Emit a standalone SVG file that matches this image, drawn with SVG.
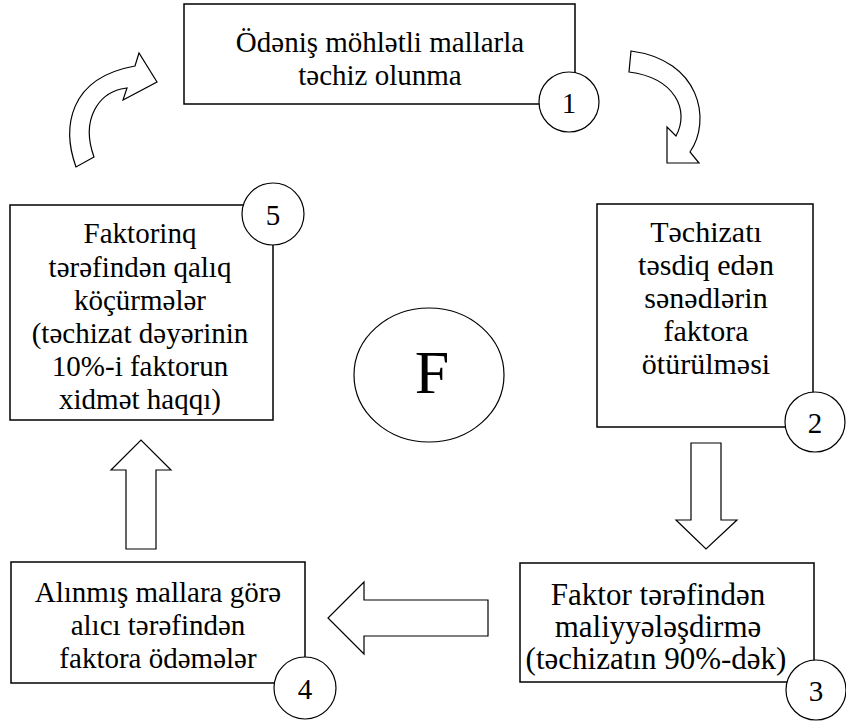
<svg xmlns="http://www.w3.org/2000/svg" width="846" height="722" viewBox="0 0 846 722">
<style>
.box{fill:#fff;stroke:#000;stroke-width:1.5}
.num{fill:#fff;stroke:#000;stroke-width:1.2}
.arr{fill:#fff;stroke:#000;stroke-width:1.2;stroke-linejoin:miter}
text{font-family:"Liberation Serif","Times New Roman","DejaVu Serif",serif;font-size:29px;fill:#000;text-anchor:middle}
</style>
<rect width="846" height="722" fill="#fff"/>
<g id="connectors">
<path class="arr" d="M76,167 C62,128 68,78 135,66 L139,53 L157,82 L123,100 L127,88 L121,89 C100,94 80,118 94,157 Z"/>
<path class="arr" d="M631,51 C700,60 712,120 690,152 L699,163 L667,163 L667,127 L676,136 C690,110 675,78 629,72 Z"/>
<path class="arr" d="M691,443 L721,443 L721,520 L737,520 L706,549 L676,520 L691,520 Z"/>
<path class="arr" d="M488,600 L488,636 L364,636 L364,654 L328,618 L364,582 L364,600 Z"/>
<path class="arr" d="M126,549 L156,549 L156,470 L171,470 L141,440 L111,470 L126,470 Z"/>
</g>
<g id="node1">
<rect class="box" x="184" y="4" width="391" height="100"/>
<text x="380" y="52">Ödəniş möhlətli mallarla</text>
<text x="380" y="85">təchiz olunma</text>
<circle class="num" cx="569" cy="102" r="30"/>
<text x="569" y="113">1</text>
</g>
<g id="node2">
<rect class="box" x="597" y="204" width="216" height="223"/>
<text x="706" y="242" style="font-size:30px">Təchizatı</text>
<text x="706" y="275" style="font-size:30px">təsdiq edən</text>
<text x="706" y="308" style="font-size:30px">sənədlərin</text>
<text x="706" y="341" style="font-size:30px">faktora</text>
<text x="706" y="374" style="font-size:30px">ötürülməsi</text>
<circle class="num" cx="815" cy="422" r="30"/>
<text x="815" y="433">2</text>
</g>
<g id="node3">
<rect class="box" x="520" y="563" width="294" height="119"/>
<text x="658" y="605" style="font-size:31px">Faktor tərəfindən</text>
<text x="658" y="637" style="font-size:31px">maliyyələşdirmə</text>
<text x="656" y="669" style="font-size:31px">(təchizatın 90%-dək)</text>
<circle class="num" cx="816" cy="690" r="30"/>
<text x="816" y="701">3</text>
</g>
<g id="node4">
<rect class="box" x="11" y="562" width="294" height="121"/>
<text x="158" y="602">Alınmış mallara görə</text>
<text x="158" y="635">alıcı tərəfindən</text>
<text x="158" y="668">faktora ödəmələr</text>
<circle class="num" cx="305" cy="688" r="31"/>
<text x="305" y="699">4</text>
</g>
<g id="node5">
<rect class="box" x="10" y="205" width="263" height="215"/>
<text x="140" y="243">Faktorinq</text>
<text x="140" y="277">tərəfindən qalıq</text>
<text x="140" y="310">köçürmələr</text>
<text x="140" y="343">(təchizat dəyərinin</text>
<text x="140" y="376">10%-i faktorun</text>
<text x="140" y="409">xidmət haqqı)</text>
<circle class="num" cx="273" cy="214" r="31"/>
<text x="273" y="225">5</text>
</g>
<g id="nodeF">
<ellipse class="num" cx="429" cy="375" rx="75" ry="67"/>
<text x="432" y="393" style="font-size:62px">F</text>
</g>
</svg>
